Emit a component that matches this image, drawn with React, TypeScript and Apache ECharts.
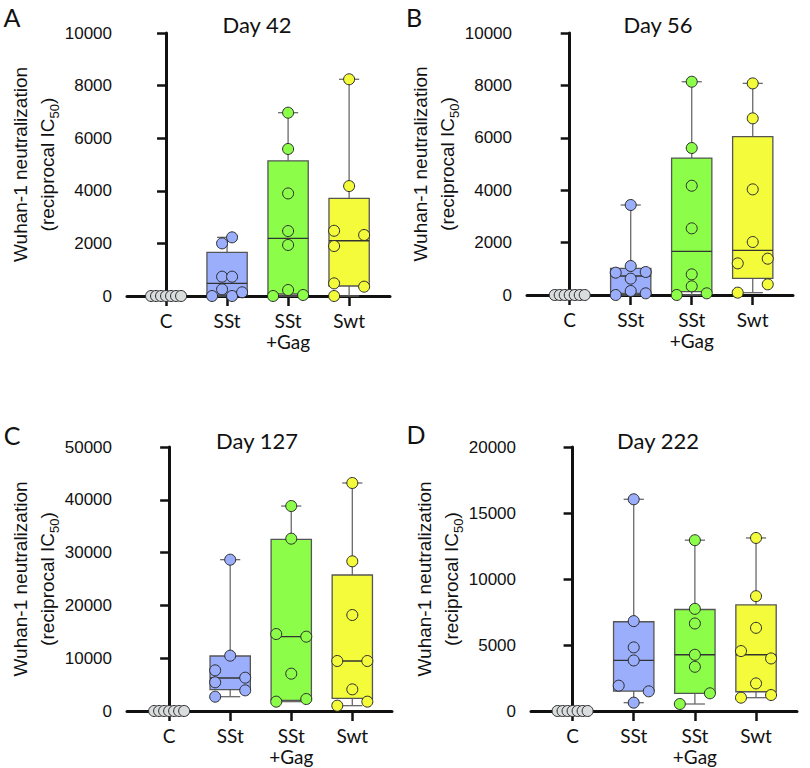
import React, { useEffect, useRef } from "react";
import * as echarts from "echarts";

// ---------------- data ----------------
const categories = ["C", "SSt", "SSt\n+Gag", "Swt"];
const panelTitles = ["Day 42", "Day 56", "Day 127", "Day 222"];
const panelLetters = ["A", "B", "C", "D"];
const yMaxes = [10000, 10000, 50000, 20000];
const yIntervals = [2000, 2000, 10000, 5000];

// values of each animal, per group (C, SSt, SSt+Gag, Swt)
const day42Values = [
  [0, 0, 0, 0, 0, 0, 0],
  [2230, 2000, 735, 735, 253, 0, 0, 140],
  [6970, 5590, 3900, 2470, 1940, 228, 0, 38],
  [8240, 4180, 2480, 2320, 1900, 480, 355, 0],
];
const day56Values = [
  [0, 0, 0, 0, 0, 0, 0],
  [3435, 1107, 852, 878, 623, 0, 153, 64],
  [8140, 5610, 4170, 2544, 789, 331, 0, 64],
  [8077, 6742, 4032, 2022, 1208, 1386, 407, 89],
];
const day127Values = [
  [0, 0, 0, 0, 0, 0, 0],
  [28660, 10480, 7700, 6310, 5430, 3910, 2710],
  [38820, 32640, 14580, 14080, 7070, 1770, 2270],
  [43180, 28350, 18180, 9470, 9470, 4100, 1010, 1770],
];
const day222Values = [
  [0, 0, 0, 0, 0, 0, 0],
  [16040, 6810, 4820, 3830, 1920, 1490, 630],
  [12940, 7740, 6630, 4260, 3350, 1340, 530],
  [13110, 8700, 6300, 4540, 3980, 2090, 1010, 1210],
];

// horizontal scatter slot of each point (GraphPad-style spreading)
const day42Slots = [
  [-3, -2, -1, 0, 1, 2, 3],
  [1, -1, -1, 1, -1, -3, 1, 3],
  [0, 0, 0, 0, 0, 0, -3, 3],
  [0, 0, -3, 3, -3, -3, 3, -3],
];
const day56Slots = [
  [-3, -2, -1, 0, 1, 2, 3],
  [0, 0, -3, 3, 0, -3, 0, 3],
  [0, 0, 0, 0, 0, 0, -3, 3],
  [0, 0, 0, 0, -3, 3, 3, -3],
];
const day127Slots = [
  [-3, -2, -1, 0, 1, 2, 3],
  [0, 0, -3, 3, -3, 3, -3],
  [0, 0, -3, 3, 0, -3, 3],
  [0, 0, 0, -3, 3, 0, -3, 3],
];
const day222Slots = [
  [-3, -2, -1, 0, 1, 2, 3],
  [0, 0, 0, 0, -3, 3, 0],
  [0, 0, 0, 0, 0, 3, -3],
  [0, 0, 0, -3, 3, 0, -3, 3],
];

// box statistics [min, q1, median, q3, max] per group (C has none)
const day42Box = [null, [0, 40, 480, 1660, 2230], [0, 76, 2190, 5140, 6970], [0, 380, 2100, 3710, 8240]];
const day56Box = [null, [0, 64, 725, 1018, 3435], [0, 127, 1666, 5228, 8140], [89, 636, 1705, 6042, 8077]];
const day127Box = [null, [2710, 4040, 6250, 10420, 28660], [1770, 2020, 14080, 32510, 38820], [1010, 2400, 9470, 25760, 43180]];
const day222Box = [null, [630, 1510, 3830, 6760, 16040], [530, 1340, 4260, 7690, 12940], [1010, 1460, 4260, 8040, 13110]];

const allValues = [day42Values, day56Values, day127Values, day222Values];
const allSlots = [day42Slots, day56Slots, day127Slots, day222Slots];
const allBoxes = [day42Box, day56Box, day127Box, day222Box];

// ---------------- styling / layout ----------------
const groupColors = ["#d9dddd", "#9aaefc", "#8cfe4a", "#f4fb3a"];
const gridLayout = [
  { left: 127, top: 33, width: 263, height: 263 },
  { left: 527, top: 33, width: 266, height: 262 },
  { left: 127, top: 447, width: 265, height: 264 },
  { left: 531, top: 447, width: 266, height: 264 },
];
const xRanges = [
  [-0.64, 3.67],
  [-0.7, 3.66],
  [-0.69, 3.65],
  [-0.68, 3.67],
];
const titlePos = [
  [257, 24],
  [658, 24],
  [257, 440],
  [658, 440],
];
const letterPos = [
  [12, 17],
  [414, 17],
  [12, 435],
  [416, 434],
];
const SLOT = 0.082;
const HALF_BOX = 0.33;
const HALF_CAP = 0.165;
const SANS = "Liberation Sans";
const LABEL_FONT = "Lato";

function buildOption() {
  const grid: any[] = [];
  const xAxis: any[] = [];
  const yAxis: any[] = [];
  const series: any[] = [];
  const graphic: any[] = [];

  for (let i = 0; i < 4; i++) {
    grid.push({ ...gridLayout[i], containLabel: false });
    xAxis.push({
      type: "value",
      gridIndex: i,
      min: xRanges[i][0],
      max: xRanges[i][1],
      splitLine: { show: false },
      axisLine: { show: true, lineStyle: { color: "#111", width: 3 } },
      axisTick: {
        show: true,
        customValues: [0, 1, 2, 3],
        length: 10,
        lineStyle: { color: "#111", width: 2.5 },
      },
      axisLabel: {
        show: true,
        customValues: [0, 1, 2, 3],
        formatter: (v: number) => categories[Math.round(v)] ?? "",
        fontFamily: LABEL_FONT,
        fontSize: 19,
        lineHeight: 21,
        color: "#111",
        margin: 14,
      },
    });
    yAxis.push({
      type: "value",
      gridIndex: i,
      min: 0,
      max: yMaxes[i],
      interval: yIntervals[i],
      splitLine: { show: false },
      axisLine: { show: true, lineStyle: { color: "#111", width: 3 } },
      axisTick: { show: true, length: 9, lineStyle: { color: "#111", width: 2.5 } },
      axisLabel: {
        fontFamily: SANS,
        fontSize: 17,
        color: "#111",
        margin: 15,
        formatter: (v: number) => String(v),
      },
      name: "{a|Wuhan-1 neutralization}\n{a|(reciprocal IC}{s|50}{a|)}",
      nameLocation: "middle",
      nameRotate: 90,
      nameGap: 64,
      nameTextStyle: {
        fontFamily: SANS,
        fontSize: 19,
        color: "#111",
        lineHeight: 27,
        rich: {
          a: { fontFamily: SANS, fontSize: 19, color: "#111", lineHeight: 27 },
          s: { fontFamily: SANS, fontSize: 13, color: "#111", lineHeight: 12, verticalAlign: "bottom" },
        },
      },
    });

    // box & whiskers
    const boxData: any[] = [];
    allBoxes[i].forEach((b, g) => {
      if (b) boxData.push([g, ...b]);
    });
    series.push({
      type: "custom",
      xAxisIndex: i,
      yAxisIndex: i,
      z: 2,
      clip: false,
      data: boxData,
      renderItem: (_params: any, api: any) => {
        const g = api.value(0);
        const mn = api.value(1);
        const q1 = api.value(2);
        const md = api.value(3);
        const q3 = api.value(4);
        const mx = api.value(5);
        const p = (x: number, y: number) => api.coord([x, y]);
        const wStyle = { stroke: "#6a6a6a", lineWidth: 1.3 };
        const left = p(g - HALF_BOX, q3);
        const right = p(g + HALF_BOX, q1);
        return {
          type: "group",
          children: [
            { type: "line", shape: { x1: p(g, q3)[0], y1: p(g, q3)[1], x2: p(g, mx)[0], y2: p(g, mx)[1] }, style: wStyle },
            { type: "line", shape: { x1: p(g - HALF_CAP, mx)[0], y1: p(g, mx)[1], x2: p(g + HALF_CAP, mx)[0], y2: p(g, mx)[1] }, style: wStyle },
            { type: "line", shape: { x1: p(g, q1)[0], y1: p(g, q1)[1], x2: p(g, mn)[0], y2: p(g, mn)[1] }, style: wStyle },
            { type: "line", shape: { x1: p(g - HALF_CAP, mn)[0], y1: p(g, mn)[1], x2: p(g + HALF_CAP, mn)[0], y2: p(g, mn)[1] }, style: wStyle },
            {
              type: "rect",
              shape: { x: left[0], y: left[1], width: right[0] - left[0], height: right[1] - left[1] },
              style: { fill: groupColors[g], stroke: "#555", lineWidth: 1.3 },
            },
            {
              type: "line",
              shape: { x1: p(g - HALF_BOX, md)[0], y1: p(g, md)[1], x2: p(g + HALF_BOX, md)[0], y2: p(g, md)[1] },
              style: { stroke: "#333", lineWidth: 1.3 },
            },
          ],
        };
      },
    });

    // individual points
    allValues[i].forEach((vals, g) => {
      series.push({
        type: "scatter",
        xAxisIndex: i,
        yAxisIndex: i,
        z: 3,
        clip: false,
        symbol: "circle",
        symbolSize: 11,
        itemStyle: { color: groupColors[g], borderColor: "#2a2a2a", borderWidth: 1, opacity: 1 },
        data: vals.map((v, k) => [g + allSlots[i][g][k] * SLOT, v]),
      });
    });

    graphic.push({
      type: "text",
      x: titlePos[i][0],
      y: titlePos[i][1],
      style: {
        text: panelTitles[i],
        font: `22px ${LABEL_FONT}`,
        fill: "#111",
        textAlign: "center",
        textVerticalAlign: "middle",
        align: "center",
        verticalAlign: "middle",
      },
    });
    graphic.push({
      type: "text",
      x: letterPos[i][0],
      y: letterPos[i][1],
      style: {
        text: panelLetters[i],
        font: `25px ${LABEL_FONT}`,
        fill: "#111",
        textAlign: "center",
        textVerticalAlign: "middle",
        align: "center",
        verticalAlign: "middle",
      },
    });
  }

  return {
    animation: false,
    backgroundColor: "#ffffff",
    grid,
    xAxis,
    yAxis,
    series,
    graphic,
  };
}

export default function App() {
  const ref = useRef<HTMLDivElement>(null);
  useEffect(() => {
    if (!ref.current) return;
    const chart = echarts.init(ref.current, undefined, { renderer: "svg" });
    chart.setOption(buildOption() as any);
    return () => chart.dispose();
  }, []);
  return (
    <div
      ref={ref}
      style={{ position: "absolute", left: 0, top: 0, width: 810, height: 768, background: "#fff" }}
    />
  );
}
